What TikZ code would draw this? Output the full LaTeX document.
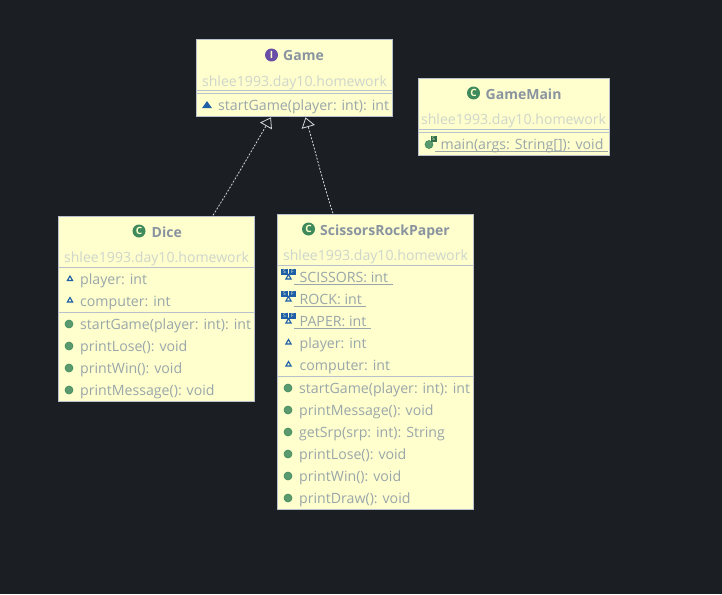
\documentclass[tikz,border=0pt]{standalone}
\usepackage{fontspec}
\setmainfont{Open Sans}
\usetikzlibrary{arrows.meta,shapes.geometric,calc}
\definecolor{bgc}{HTML}{1B1F24}
\definecolor{boxc}{HTML}{FEFFCD}
\definecolor{edgec}{HTML}{B9C2CC}
\definecolor{titlec}{HTML}{8A94A0}
\definecolor{pkgc}{HTML}{CFD5CB}
\definecolor{memc}{HTML}{9AA6AA}
\definecolor{linkc}{HTML}{D5D8D8}
\definecolor{greenc}{HTML}{3F8A5C}
\definecolor{methc}{HTML}{5A9A6E}
\definecolor{bluec}{HTML}{1F5FA8}
\definecolor{purplec}{HTML}{6A4DA6}
\tikzset{
  x=1pt,y=-1pt,
  classbox/.style={draw=edgec,fill=boxc,line width=1pt,anchor=north west,inner sep=0pt},
  divider/.style={draw=edgec,line width=1pt},
  titletxt/.style={anchor=west,inner sep=0pt,text=titlec,text height=13pt,text depth=3pt,font=\fontsize{14}{16}\selectfont\bfseries},
  pkgtxt/.style={anchor=center,inner sep=0pt,text=pkgc,text height=13pt,text depth=3pt,font=\fontsize{14.1}{16}\selectfont},
  memtxt/.style={anchor=west,inner sep=0pt,text=memc,text height=13pt,text depth=3pt,font=\fontsize{14.15}{16}\selectfont},
  uline/.style={draw=memc,line width=1pt},
  clsicon/.style={circle,fill=greenc,minimum size=13pt,inner sep=0pt,text=boxc,font=\fontsize{10}{10}\selectfont\bfseries},
  ifaceicon/.style={clsicon,fill=purplec},
  methicon/.style={circle,fill=methc,draw=greenc,line width=.6pt,minimum size=8pt,inner sep=0pt},
  pkgicon/.style={isosceles triangle,isosceles triangle apex angle=70,shape border rotate=90,fill=bluec,inner sep=0pt,minimum size=7pt},
  realize/.style={draw=linkc,line width=.8pt,dash pattern=on 2pt off 1.5pt,
    -{Triangle[open,length=10pt,width=13.5pt,fill=bgc,line width=.8pt]}},
}
\newcommand{\fieldicon}[2]{\node[isosceles triangle,isosceles triangle apex angle=60,shape border rotate=90,draw=bluec,fill=boxc,line width=1.1pt,inner sep=0pt,minimum size=4.5pt] (#1) at #2 {};}
\begin{document}
\begin{tikzpicture}
\useasboundingbox[fill=bgc] (0,0) rectangle (722,594);

% Game
\node[classbox,minimum width=196pt,minimum height=77pt] (game) at (196,39.3) {};
\draw[divider] (game.west |- 0,90) -- (game.east |- 0,90);
\draw[divider] (game.west |- 0,93) -- (game.east |- 0,93);
\node[ifaceicon] (gameI) at (271.5,55) {I};
\node[titletxt] (gameT) at (283,55.5) {Game};
\node[pkgtxt] (gameP) at (294.5,81) {shlee1993.day10.homework};
\node[pkgicon] (gameM0) at (207,105.5) {};
\node[memtxt] (gameM) at (218,105) {startGame(player: int): int};

% GameMain
\node[classbox,minimum width=191pt,minimum height=77pt] (gm) at (418,78.3) {};
\draw[divider] (gm.west |- 0,129.5) -- (gm.east |- 0,129.5);
\draw[divider] (gm.west |- 0,132.5) -- (gm.east |- 0,132.5);
\node[clsicon] (gmI) at (473.5,93) {C};
\node[titletxt] (gmT) at (485.5,94.5) {GameMain};
\node[pkgtxt] (gmP) at (513.5,119.5) {shlee1993.day10.homework};
\node[memtxt] (gmM) at (440.5,144) {main(args: String[]): void};
\draw[uline] (435,151) -- (607.5,151);
\node[methicon] (gmM0) at (429,144.5) {};
\node[fill=greenc!80!black,inner sep=0pt,minimum size=6pt,text=boxc,font=\fontsize{5}{5}\selectfont] (gmS) at (433.5,138.5) {S};

% Dice
\node[classbox,minimum width=196pt,minimum height=185pt] (dice) at (58,216.3) {};
\draw[divider] (dice.west |- 0,267.5) -- (dice.east |- 0,267.5);
\draw[divider] (dice.west |- 0,312) -- (dice.east |- 0,312);
\node[clsicon] (diceI) at (139,231) {C};
\node[titletxt] (diceT) at (151.5,232.5) {Dice};
\node[pkgtxt] (diceP) at (156.5,257.5) {shlee1993.day10.homework};
\fieldicon{diceF1i}{(70,279)}
\node[memtxt] (diceF1) at (80,279) {player: int};
\fieldicon{diceF2i}{(70,300.5)}
\node[memtxt] (diceF2) at (80,301) {computer: int};
\node[methicon] (diceM1i) at (69,324) {};
\node[memtxt] (diceM1) at (80,324) {startGame(player: int): int};
\node[methicon] (diceM2i) at (69,346) {};
\node[memtxt] (diceM2) at (80,346) {printLose(): void};
\node[methicon] (diceM3i) at (69,368) {};
\node[memtxt] (diceM3) at (80,368) {printWin(): void};
\node[methicon] (diceM4i) at (69,390) {};
\node[memtxt] (diceM4) at (80,390) {printMessage(): void};

% ScissorsRockPaper
\node[classbox,minimum width=196pt,minimum height=295pt] (srp) at (277,214.3) {};
\draw[divider] (srp.west |- 0,265.5) -- (srp.east |- 0,265.5);
\draw[divider] (srp.west |- 0,376) -- (srp.east |- 0,376);
\node[clsicon] (srpI) at (308.5,229) {C};
\node[titletxt] (srpT) at (320,230.5) {ScissorsRockPaper};
\node[pkgtxt] (srpP) at (375.5,255.5) {shlee1993.day10.homework};
\foreach \nm/\yy/\tx/\en in {a/277/SCISSORS: int/392.5,b/299/ROCK: int/365.5,c/321/PAPER: int/370.5}{
  \node[memtxt] (srp\nm) at (299.5,\yy) {\tx};
  \draw[uline] (294,\yy+7) -- (\en,\yy+7);
  \node[fill=bluec,inner sep=0pt,minimum width=7pt,minimum height=6.5pt,text=boxc,font=\fontsize{5}{5}\selectfont] (srp\nm S) at (284.5,\yy-5) {S};
  \node[fill=bluec,inner sep=0pt,minimum width=7pt,minimum height=6.5pt,text=boxc,font=\fontsize{5}{5}\selectfont] (srp\nm F) at (292.5,\yy-5) {F};
  \fieldicon{srp\nm i}{(288.5,\yy+.5)}
}
\fieldicon{srpF1i}{(288.5,342.5)}
\node[memtxt] (srpF1) at (299.5,343) {player: int};
\fieldicon{srpF2i}{(288.5,364.5)}
\node[memtxt] (srpF2) at (299.5,365) {computer: int};
\node[methicon] (srpM1i) at (288,388) {};
\node[memtxt] (srpM1) at (299,388) {startGame(player: int): int};
\node[methicon] (srpM2i) at (288,410) {};
\node[memtxt] (srpM2) at (299,410) {printMessage(): void};
\node[methicon] (srpM3i) at (288,432) {};
\node[memtxt] (srpM3) at (299,432) {getSrp(srp: int): String};
\node[methicon] (srpM4i) at (288,454) {};
\node[memtxt] (srpM4) at (299,454) {printLose(): void};
\node[methicon] (srpM5i) at (288,476) {};
\node[memtxt] (srpM5) at (299,476) {printWin(): void};
\node[methicon] (srpM6i) at (288,498) {};
\node[memtxt] (srpM6) at (299,498) {printDraw(): void};

% Realizations
\coordinate (diceTop) at ($(dice.north west)+(155,-1)$);
\coordinate (srpTop) at ($(srp.north west)+(56,-1)$);
\coordinate (gameA) at ($(game.south west)+(75,0)$);
\coordinate (gameB) at ($(game.south west)+(109.5,0)$);
\draw[realize] (diceTop) .. controls (232,185) and (255,145) .. (gameA);
\draw[realize] (srpTop) .. controls (325,190) and (315,150) .. (gameB);
\end{tikzpicture}
\end{document}
